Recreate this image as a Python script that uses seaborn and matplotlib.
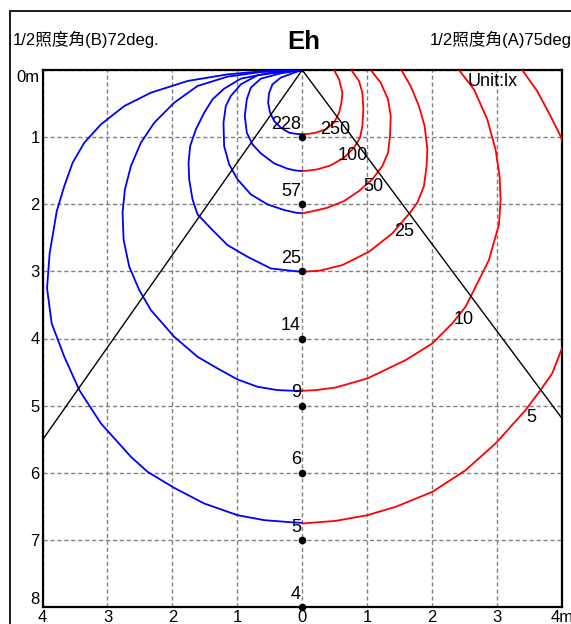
import matplotlib
matplotlib.use("Agg")
import matplotlib.pyplot as plt
import seaborn as sns
import pandas as pd
from matplotlib.patches import Rectangle

# isolux curves, x in m (left side negative), depth in m
# side B (left, blue)
b250_x = [0, -0.126, -0.331, -0.459, -0.51, -0.526, -0.495, -0.433, -0.331, -0.203, -0.074, 0]
b250_y = [0, 0.04, 0.114, 0.214, 0.338, 0.487, 0.636, 0.760, 0.859, 0.934, 0.954, 0.956]
b100_x = [0, -0.331, -0.638, -0.792, -0.854, -0.885, -0.854, -0.767, -0.638, -0.433, -0.228, -0.10, 0]
b100_y = [0, 0.05, 0.129, 0.263, 0.437, 0.686, 0.934, 1.108, 1.242, 1.391, 1.470, 1.498, 1.505]
b50_x = [0, -0.331, -0.69, -0.946, -1.1, -1.177, -1.213, -1.203, -1.126, -0.997, -0.792,
         -0.536, -0.279, -0.10, 0]
b50_y = [0, 0.03, 0.079, 0.214, 0.387, 0.537, 0.785, 1.133, 1.406, 1.629, 1.853,
         2.002, 2.086, 2.125, 2.135]
b25_x = [0, -0.536, -0.946, -1.203, -1.382, -1.51, -1.638, -1.726, -1.751, -1.741, -1.69,
         -1.613, -1.382, -1.151, -0.844, -0.485, -0.126, 0]
b25_y = [0, 0.05, 0.129, 0.278, 0.437, 0.636, 0.884, 1.133, 1.381, 1.629, 1.927,
         2.151, 2.385, 2.608, 2.782, 2.956, 2.996, 3.005]
b10_x = [0, -0.638, -1.151, -1.613, -1.972, -2.279, -2.485, -2.638, -2.731, -2.767, -2.751,
         -2.664, -2.51, -2.331, -1.972, -1.613, -1.305, -0.997, -0.690, -0.382, -0.126, 0]
b10_y = [0, 0.03, 0.099, 0.238, 0.487, 0.785, 1.083, 1.431, 1.778, 2.126, 2.533,
         2.931, 3.279, 3.577, 3.974, 4.272, 4.446, 4.610, 4.719, 4.769, 4.779, 4.779]
b5_x = [0, -0.638, -1.151, -1.767, -2.331, -2.741, -3.1, -3.356, -3.536, -3.664, -3.78,
        -3.89, -3.93, -3.859, -3.664, -3.433, -3.100, -2.638, -2.382, -1.972, -1.510,
        -0.997, -0.587, -0.126, 0]
b5_y = [0, 0.02, 0.065, 0.164, 0.338, 0.537, 0.81, 1.083, 1.381, 1.729, 2.1,
        2.73, 3.25, 3.775, 4.272, 4.769, 5.266, 5.762, 5.986, 6.225, 6.458,
        6.632, 6.706, 6.741, 6.746]

# side A (right, red)
r250_x = [0.49, 0.567, 0.618, 0.603, 0.567, 0.49, 0.362, 0.208, 0.079, 0]
r250_y = [0, 0.139, 0.338, 0.487, 0.636, 0.785, 0.884, 0.934, 0.954, 0.956]
r100_x = [0.756, 0.874, 0.926, 0.941, 0.926, 0.890, 0.797, 0.644, 0.438, 0.233, 0.08, 0]
r100_y = [0, 0.164, 0.338, 0.586, 0.835, 1.008, 1.157, 1.307, 1.421, 1.480, 1.50, 1.505]
r50_x = [1.054, 1.208, 1.321, 1.362, 1.351, 1.321, 1.233, 1.079, 0.874, 0.644, 0.387, 0.131, 0]
r50_y = [0, 0.189, 0.437, 0.686, 0.984, 1.232, 1.431, 1.629, 1.803, 1.952, 2.052, 2.11, 2.135]
r25_x = [1.526, 1.669, 1.797, 1.885, 1.926, 1.915, 1.874, 1.772, 1.655, 1.387, 1.028, 0.618, 0.259, 0]
r25_y = [0, 0.238, 0.537, 0.835, 1.182, 1.431, 1.729, 1.977, 2.13, 2.434, 2.707, 2.906, 2.991, 3.005]
r10_x = [2.413, 2.644, 2.849, 2.977, 3.038, 3.054, 3.03, 2.874, 2.644, 2.515, 2.310, 2.003,
         1.592, 1.003, 0.515, 0.208, 0]
r10_y = [0, 0.288, 0.735, 1.182, 1.580, 1.927, 2.3, 2.832, 3.279, 3.527, 3.775, 4.074,
         4.322, 4.595, 4.73, 4.769, 4.779]
r5_x = [3.387, 3.618, 3.823, 3.977, 4.028, 4.15, 4.25, 4.25, 4.15, 4.028, 3.849, 3.669,
        3.438, 2.977, 2.515, 2.003, 1.438, 1.003, 0.515, 0]
r5_y = [0, 0.313, 0.686, 0.984, 1.133, 1.6, 2.3, 3.0, 3.6, 4.074, 4.521, 4.769,
        5.067, 5.564, 5.962, 6.285, 6.508, 6.632, 6.717, 6.756]

levels = [250, 100, 50, 25, 10, 5]
level_lab_x = [0.5, 0.785, 1.1, 1.57, 2.485, 3.53]
level_lab_y = [0.879, 1.28, 1.74, 2.40, 3.71, 5.17]

# beam edges (half-angle lines) and centre-axis values
beam_x = [-4, 0, 4]
beam_y = [5.51, 0, 5.19]
centre_depth = [1, 2, 3, 4, 5, 6, 7, 8]
centre_lux = [228, 57, 25, 14, 9, 6, 5, 4]

x_ticks = [-4, -3, -2, -1, 0, 1, 2, 3, 4]
x_labels = ["4", "3", "2", "1", "0", "1", "2", "3", "4m"]
y_ticks = [0, 1, 2, 3, 4, 5, 6, 7, 8]
y_labels = ["0m", "1", "2", "3", "4", "5", "6", "7", "8"]

sns.set_style("white")
plt.rcParams["font.family"] = ["Liberation Sans", "Noto Sans CJK JP", "DejaVu Sans"]
plt.rcParams["text.color"] = "black"
plt.rcParams["xtick.color"] = "black"
plt.rcParams["ytick.color"] = "black"

curves = [
    ("B", 250, b250_x, b250_y), ("B", 100, b100_x, b100_y), ("B", 50, b50_x, b50_y),
    ("B", 25, b25_x, b25_y), ("B", 10, b10_x, b10_y), ("B", 5, b5_x, b5_y),
    ("A", 250, r250_x, r250_y), ("A", 100, r100_x, r100_y), ("A", 50, r50_x, r50_y),
    ("A", 25, r25_x, r25_y), ("A", 10, r10_x, r10_y), ("A", 5, r5_x, r5_y),
]
rows = []
for side, lev, xs, ys in curves:
    for xv, yv in zip(xs, ys):
        rows.append({"side": side, "curve": f"{side}{lev}", "x": xv, "y": yv})
df = pd.DataFrame(rows)

fig = plt.figure(figsize=(5.71, 6.24), dpi=100)
ax = fig.add_axes([42.5 / 571, 1 - 607 / 624, 519.5 / 571, 537 / 624])

sns.lineplot(data=df, x="x", y="y", hue="side", units="curve", estimator=None, sort=False,
             palette={"B": "#0000ff", "A": "#ff0000"}, lw=1.3, legend=False, ax=ax, zorder=3)
sns.lineplot(x=beam_x, y=beam_y, sort=False, estimator=None, color="black", lw=1.0, ax=ax, zorder=4)
sns.scatterplot(x=[0] * len(centre_depth), y=centre_depth, color="black", s=30,
                linewidth=0, ax=ax, zorder=6, clip_on=False)

for d, v in zip(centre_depth, centre_lux):
    ax.annotate(str(v), (0, d), xytext=(-1, 6), textcoords="offset points",
                ha="right", va="baseline", fontsize=13, color="black", zorder=7)
for lx, ly, v in zip(level_lab_x, level_lab_y, levels):
    ax.text(lx, ly, str(v), ha="center", va="center", fontsize=13, color="black", zorder=7)

ax.set_xlim(-4, 4)
ax.set_ylim(8, 0)
ax.set_xticks(x_ticks)
ax.set_xticklabels(x_labels)
ax.set_yticks(y_ticks)
ax.set_yticklabels(y_labels)
ax.set_xlabel("")
ax.set_ylabel("")
ax.tick_params(length=0, labelsize=12, pad=2, labelcolor="black")
yl = ax.get_yticklabels()
yl[0].set_va("top")
yl[-1].set_va("bottom")
ax.grid(True, color="#808080", ls=(0, (3, 2)), lw=1.0, zorder=0)
ax.set_axisbelow(True)
for s in ax.spines.values():
    s.set_visible(True)
    s.set_color("black")
    s.set_linewidth(1.6)

ax.text(0.915, 0.9786, "Unit:lx", transform=ax.transAxes, ha="right", va="center",
        fontsize=13, color="black")

fig.text(304 / 571, 1 - 42 / 624, "Eh", ha="center", va="center", fontsize=18.5,
         fontweight="bold", color="black")
fig.text(13 / 571, 1 - 39 / 624, "1/2照度角(B)72deg.", ha="left", va="center", fontsize=12)
fig.text(430 / 571, 1 - 39 / 624, "1/2照度角(A)75deg.", ha="left", va="center", fontsize=12)

fig.add_artist(Rectangle((10 / 571, -0.05), 1.0, 1.05 - 11 / 624, transform=fig.transFigure,
                         fill=False, lw=1.4, ec="#1a1a1a"))

fig.savefig("out.png", dpi=100)
